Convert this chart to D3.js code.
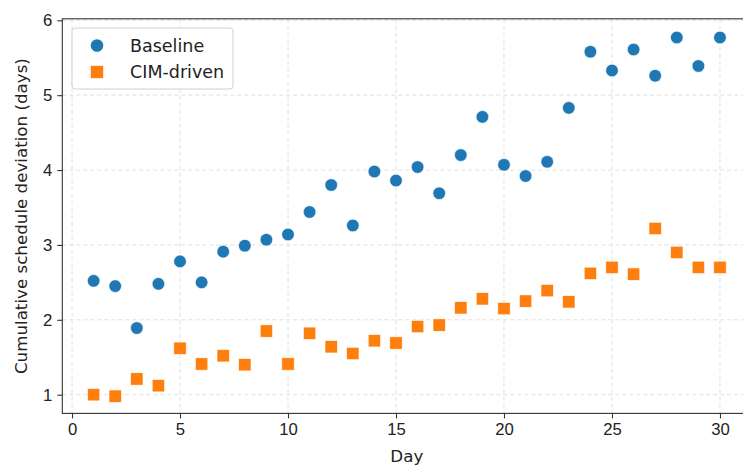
<!DOCTYPE html>
<html>
<head>
<meta charset="utf-8">
<script src="https://cdn.jsdelivr.net/npm/d3@7"></script>
<style>
  body { margin: 0; background: #fff; overflow: hidden; }
  svg { display: block; font-family: 'DejaVu Sans', sans-serif; }
  .grid line { stroke: #dcdcdc; stroke-dasharray: 4,3; stroke-width: 0.9; }
  .axis text { font-size: 16.7px; fill: #222; }
  .axis path, .axis line { stroke: #333; stroke-width: 1.1; }
</style>
</head>
<body>
<div id="chart"></div>
<script>
'use strict';

const days = d3.range(1, 31);
const baseline = [2.52, 2.45, 1.89, 2.48, 2.78, 2.50, 2.91, 2.99, 3.07, 3.14,
  3.44, 3.80, 3.26, 3.98, 3.86, 4.04, 3.69, 4.20, 4.71, 4.07,
  3.92, 4.11, 4.83, 5.58, 5.33, 5.61, 5.26, 5.77, 5.39, 5.77];
const cimDriven = [1.00, 0.98, 1.21, 1.12, 1.62, 1.41, 1.52, 1.40, 1.85, 1.41,
  1.82, 1.64, 1.55, 1.72, 1.69, 1.91, 1.93, 2.16, 2.28, 2.15,
  2.25, 2.39, 2.24, 2.62, 2.70, 2.61, 3.22, 2.90, 2.70, 2.70];
const xTicks = [0, 5, 10, 15, 20, 25, 30];
const yTicks = [1, 2, 3, 4, 5, 6];
const seriesNames = ['Baseline', 'CIM-driven'];

const width = 743, height = 468;
const margin = { left: 62.3, top: 18.8, plotRight: 751.3, bottom: 413.4 };

const svg = d3.select('#chart').append('svg')
  .attr('width', width).attr('height', height);

const x = d3.scaleLinear().domain([-0.45, 31.45]).range([margin.left, margin.plotRight]);
const y = d3.scaleLinear().domain([0.75, 6.02]).range([margin.bottom, margin.top]);

// grid
const grid = svg.append('g').classed('grid', true);
grid.selectAll('.gx').data(xTicks).enter().append('line')
  .attr('x1', d => x(d)).attr('x2', d => x(d))
  .attr('y1', margin.top).attr('y2', margin.bottom);
grid.selectAll('.gy').data(yTicks).enter().append('line')
  .attr('x1', margin.left).attr('x2', margin.plotRight)
  .attr('y1', d => y(d)).attr('y2', d => y(d));

// axes
svg.append('g').classed('axis', true)
  .attr('transform', `translate(0,${margin.bottom})`)
  .call(d3.axisBottom(x).tickValues(xTicks).tickFormat(d3.format('d'))
    .tickSizeOuter(0).tickSize(5).tickPadding(5));
svg.append('g').classed('axis', true)
  .attr('transform', `translate(${margin.left},0)`)
  .call(d3.axisLeft(y).tickValues(yTicks).tickFormat(d3.format('d'))
    .tickSizeOuter(0).tickSize(5).tickPadding(5));
svg.selectAll('.axis .domain').remove();

// spines
svg.append('rect')
  .attr('x', margin.left).attr('y', margin.top)
  .attr('width', margin.plotRight - margin.left).attr('height', margin.bottom - margin.top)
  .style('fill', 'none').style('stroke', '#333').style('stroke-width', 1.1);

// baseline points
svg.append('g').selectAll('circle').data(days).enter().append('circle')
  .attr('cx', d => x(d)).attr('cy', (d, i) => y(baseline[i]))
  .attr('r', 6.3)
  .style('fill', '#1f77b4').style('stroke', '#fff').style('stroke-width', 0.6);

// cim-driven points
const sq = 12.4;
svg.append('g').selectAll('rect').data(days).enter().append('rect')
  .attr('x', d => x(d) - sq / 2).attr('y', (d, i) => y(cimDriven[i]) - sq / 2)
  .attr('width', sq).attr('height', sq)
  .style('fill', '#ff7f0e').style('stroke', '#fff').style('stroke-width', 0.6);

// legend
const legend = svg.append('g').attr('transform', 'translate(72,28)');
legend.append('rect')
  .attr('width', 161).attr('height', 61).attr('rx', 3)
  .style('fill', 'rgba(255,255,255,0.85)').style('stroke', '#d0d0d0').style('stroke-width', 1);
legend.append('circle').attr('cx', 25).attr('cy', 17.5).attr('r', 6.3)
  .style('fill', '#1f77b4');
legend.append('rect').attr('x', 25 - sq / 2).attr('y', 44 - sq / 2)
  .attr('width', sq).attr('height', sq).style('fill', '#ff7f0e');
legend.selectAll('text').data(seriesNames).enter().append('text')
  .attr('x', 58).attr('y', (d, i) => 17.5 + i * 26.5)
  .attr('dy', '0.35em')
  .style('font-size', '17.5px').style('fill', '#222')
  .text(d => d);

// labels
svg.append('text')
  .attr('x', (margin.left + margin.plotRight) / 2).attr('y', 462)
  .attr('text-anchor', 'middle').style('font-size', '16.7px').style('fill', '#222')
  .text('Day');
svg.append('text')
  .attr('transform', `translate(26.5,${(margin.top + margin.bottom) / 2}) rotate(-90)`)
  .attr('text-anchor', 'middle').style('font-size', '16.7px').style('fill', '#222')
  .text('Cumulative schedule deviation (days)');
</script>
</body>
</html>
